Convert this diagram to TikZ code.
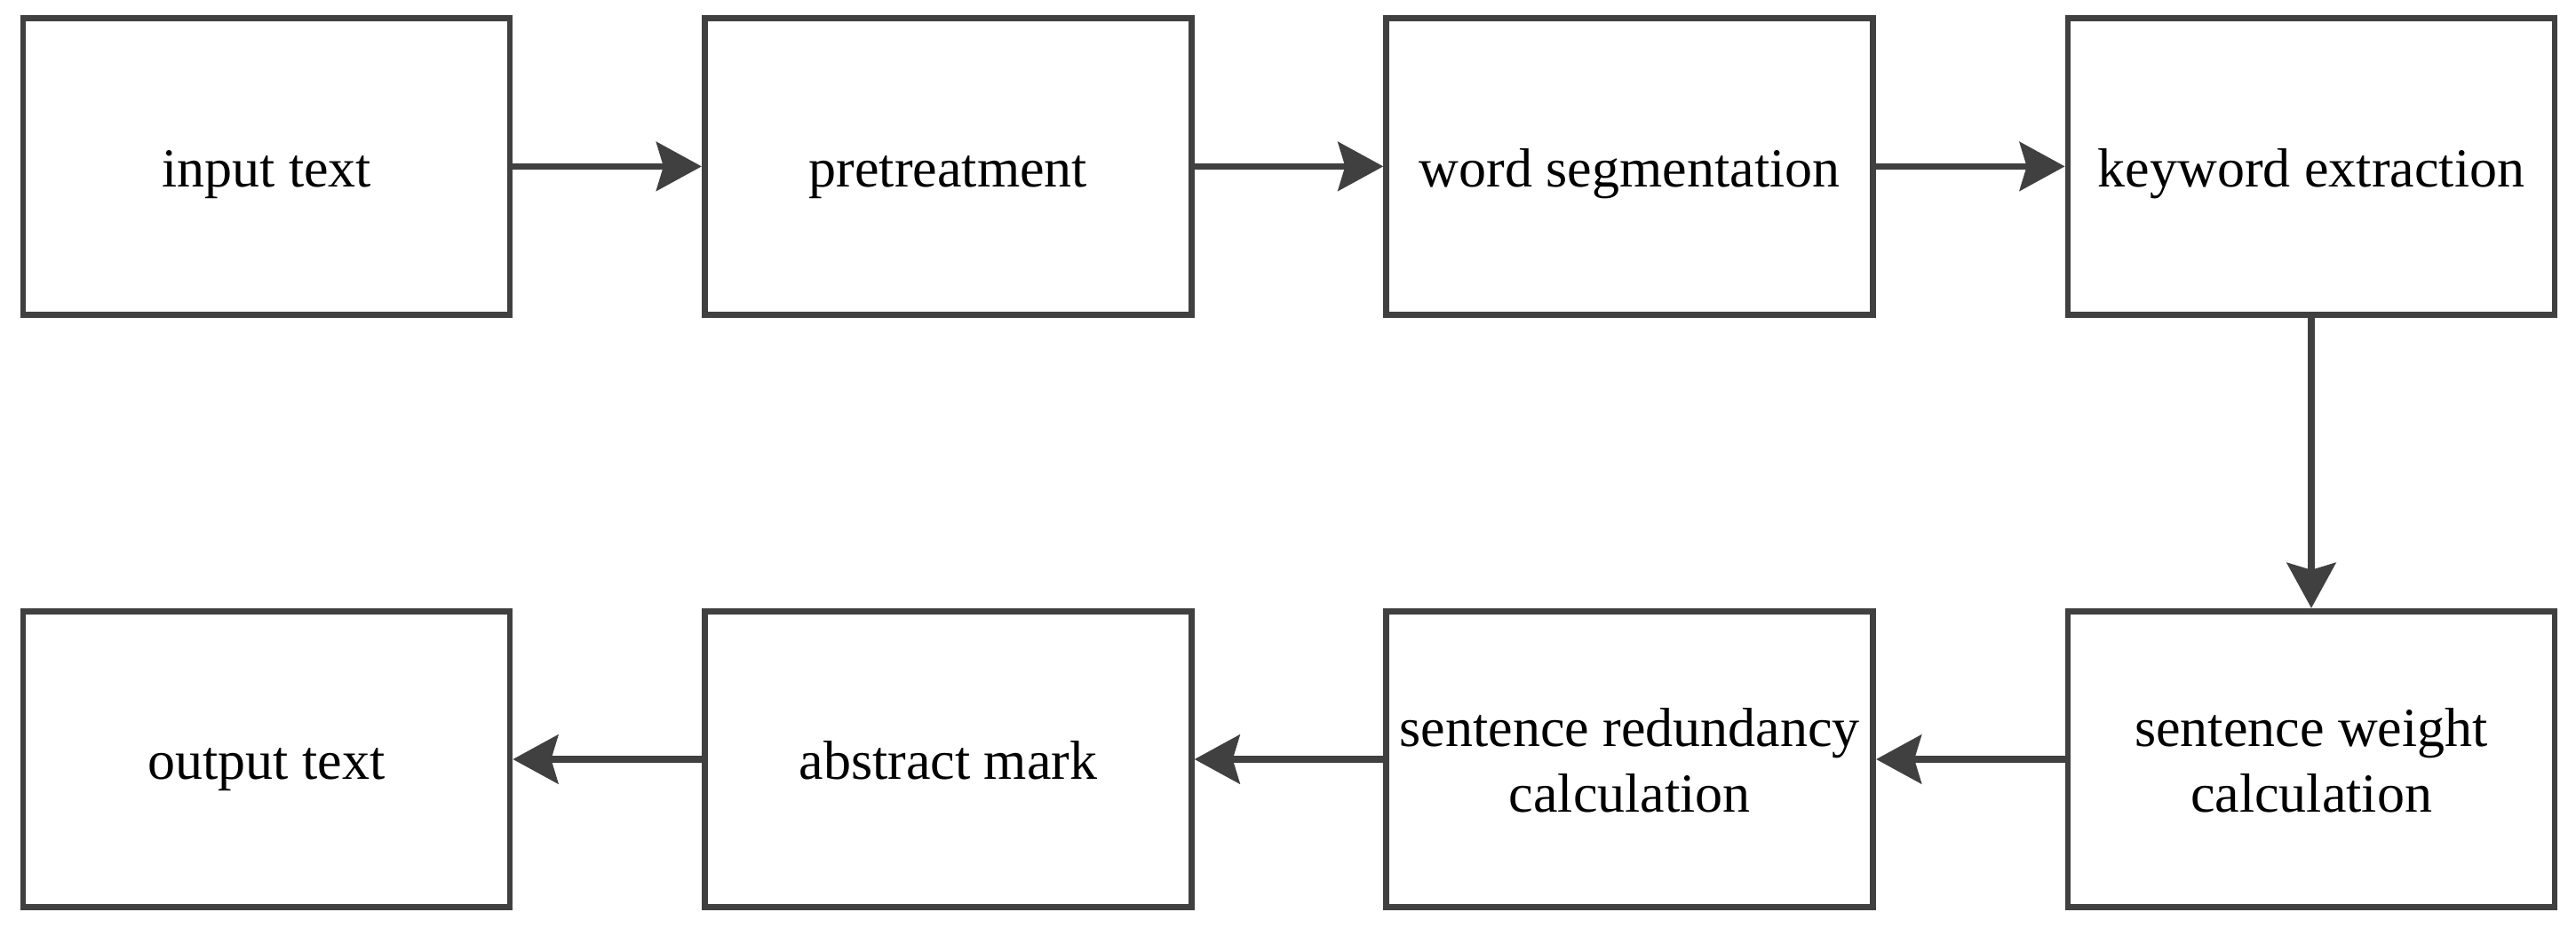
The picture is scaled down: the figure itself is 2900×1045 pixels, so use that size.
\documentclass[tikz,border=0pt]{standalone}
\usepackage{fontspec}
\setmainfont{Liberation Serif}
\usetikzlibrary{arrows.meta}
\definecolor{edgegray}{HTML}{404040}
\begin{document}
\begin{tikzpicture}[x=0.25pt,y=-0.25pt,
  box/.style={draw=edgegray, line width=1.7pt, minimum width=137pt, minimum height=83.4pt, inner sep=0pt},
  lbl/.style={font=\fontsize{15.5}{18.5}\selectfont, align=center, text=black, inner sep=0pt, yshift=-2pt},
  flow/.style={draw=edgegray, line width=1.8pt, -{Stealth[length=12.75pt,width=13.75pt,inset=2pt]}}]
\useasboundingbox (0,0) rectangle (2900,1045);
% top row
\node[box] (b1) at (300,187.4) {};
\node[box] (b2) at (1067.3,187.4) {};
\node[box] (b3) at (1834.7,187.4) {};
\node[box] (b4) at (2602,187.4) {};
% bottom row
\node[box] (b5) at (2602,855) {};
\node[box] (b6) at (1834.7,855) {};
\node[box] (b7) at (1067.3,855) {};
\node[box] (b8) at (300,855) {};
% labels
\node[lbl] (t1) at (b1.center) {\strut input text};
\node[lbl] (t2) at (b2.center) {\strut pretreatment};
\node[lbl] (t3) at (b3.center) {\strut word segmentation};
\node[lbl] (t4) at (b4.center) {\strut keyword extraction};
\node[lbl] (t5) at (b5.center) {\strut sentence weight\\\strut calculation};
\node[lbl] (t6) at (b6.center) {\strut sentence redundancy\\\strut calculation};
\node[lbl] (t7) at (b7.center) {\strut abstract mark};
\node[lbl] (t8) at (b8.center) {\strut output text};
% connectors
\draw[flow] (b1) -- (b2);
\draw[flow] (b2) -- (b3);
\draw[flow] (b3) -- (b4);
\draw[flow] (b4) -- (b5);
\draw[flow] (b5) -- (b6);
\draw[flow] (b6) -- (b7);
\draw[flow] (b7) -- (b8);
\end{tikzpicture}
\end{document}
